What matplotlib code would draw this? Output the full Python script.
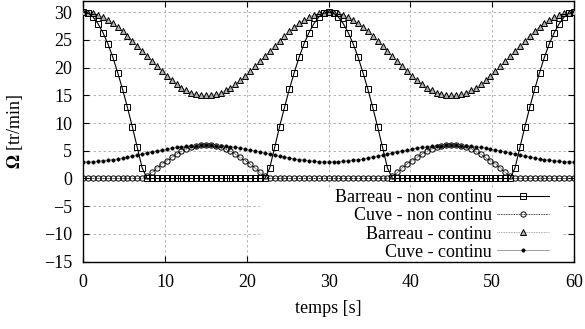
import numpy as np
import matplotlib
matplotlib.use("Agg")
import matplotlib.pyplot as plt
from matplotlib.patches import Rectangle

plt.rcParams['font.family'] = ['Liberation Serif', 'DejaVu Serif']
plt.rcParams['mathtext.fontset'] = 'stix'

# temps [s], one sample every 0.6 s
temps = np.linspace(0, 60, 101)

barreau_non_continu = [
    30.0, 29.8, 29.1, 27.9, 26.3, 24.3, 21.9, 19.1, 16.1, 12.8,
    9.3, 5.6, 1.9, 0, 0, 0, 0, 0, 0, 0,
    0, 0, 0, 0, 0, 0, 0, 0, 0, 0,
    0, 0, 0, 0, 0, 0, 0, 0, 1.9, 5.6,
    9.3, 12.8, 16.1, 19.1, 21.9, 24.3, 26.3, 27.9, 29.1, 29.8,
    30.0, 29.8, 29.1, 27.9, 26.3, 24.3, 21.9, 19.1, 16.1, 12.8,
    9.3, 5.6, 1.9, 0, 0, 0, 0, 0, 0, 0,
    0, 0, 0, 0, 0, 0, 0, 0, 0, 0,
    0, 0, 0, 0, 0, 0, 0, 0, 1.9, 5.6,
    9.3, 12.8, 16.1, 19.1, 21.9, 24.3, 26.3, 27.9, 29.1, 29.8,
    30.0]

cuve_non_continu = [
    0, 0, 0, 0, 0, 0, 0, 0, 0, 0,
    0, 0, 0, 0.4, 1.1, 1.9, 2.6, 3.2, 3.8, 4.4,
    4.9, 5.3, 5.6, 5.8, 6.0, 6.0, 6.0, 5.8, 5.6, 5.3,
    4.9, 4.4, 3.8, 3.2, 2.6, 1.9, 1.1, 0.4, 0, 0,
    0, 0, 0, 0, 0, 0, 0, 0, 0, 0,
    0, 0, 0, 0, 0, 0, 0, 0, 0, 0,
    0, 0, 0, 0.4, 1.1, 1.9, 2.6, 3.2, 3.8, 4.4,
    4.9, 5.3, 5.6, 5.8, 6.0, 6.0, 6.0, 5.8, 5.6, 5.3,
    4.9, 4.4, 3.8, 3.2, 2.6, 1.9, 1.1, 0.4, 0, 0,
    0, 0, 0, 0, 0, 0, 0, 0, 0, 0,
    0]

barreau_continu = [
    30.0, 29.9, 29.8, 29.5, 29.1, 28.6, 28.0, 27.3, 26.5, 25.7,
    24.8, 23.9, 23.0, 22.0, 21.1, 20.2, 19.3, 18.5, 17.7, 17.0,
    16.4, 15.9, 15.5, 15.2, 15.1, 15.0, 15.1, 15.2, 15.5, 15.9,
    16.4, 17.0, 17.7, 18.5, 19.3, 20.2, 21.1, 22.0, 23.0, 23.9,
    24.8, 25.7, 26.5, 27.3, 28.0, 28.6, 29.1, 29.5, 29.8, 29.9,
    30.0, 29.9, 29.8, 29.5, 29.1, 28.6, 28.0, 27.3, 26.5, 25.7,
    24.8, 23.9, 23.0, 22.0, 21.1, 20.2, 19.3, 18.5, 17.7, 17.0,
    16.4, 15.9, 15.5, 15.2, 15.1, 15.0, 15.1, 15.2, 15.5, 15.9,
    16.4, 17.0, 17.7, 18.5, 19.3, 20.2, 21.1, 22.0, 23.0, 23.9,
    24.8, 25.7, 26.5, 27.3, 28.0, 28.6, 29.1, 29.5, 29.8, 29.9,
    30.0]

cuve_continu = [
    3.0, 3.0, 3.0, 3.1, 3.2, 3.3, 3.4, 3.5, 3.7, 3.9,
    4.0, 4.2, 4.4, 4.6, 4.8, 5.0, 5.1, 5.3, 5.5, 5.6,
    5.7, 5.8, 5.9, 5.9, 6.0, 6.0, 6.0, 5.9, 5.9, 5.8,
    5.7, 5.6, 5.5, 5.3, 5.1, 5.0, 4.8, 4.6, 4.4, 4.2,
    4.0, 3.9, 3.7, 3.5, 3.4, 3.3, 3.2, 3.1, 3.0, 3.0,
    3.0, 3.0, 3.0, 3.1, 3.2, 3.3, 3.4, 3.5, 3.7, 3.9,
    4.0, 4.2, 4.4, 4.6, 4.8, 5.0, 5.1, 5.3, 5.5, 5.6,
    5.7, 5.8, 5.9, 5.9, 6.0, 6.0, 6.0, 5.9, 5.9, 5.8,
    5.7, 5.6, 5.5, 5.3, 5.1, 5.0, 4.8, 4.6, 4.4, 4.2,
    4.0, 3.9, 3.7, 3.5, 3.4, 3.3, 3.2, 3.1, 3.0, 3.0,
    3.0]

labels = ["Barreau - non continu", "Cuve - non continu",
          "Barreau - continu", "Cuve - continu"]
x_ticks = [0, 10, 20, 30, 40, 50, 60]
y_ticks = [-15, -10, -5, 0, 5, 10, 15, 20, 25, 30]

fig = plt.figure(figsize=(5.85, 3.29), dpi=100)
ax = fig.add_axes([0.1424, 0.2046, 0.8386, 0.7924])

ms = 3.8
ax.plot(temps, barreau_non_continu, color='black', lw=0.8, marker='s',
        ms=ms, mfc='none', mec='black', mew=0.7, label=labels[0], zorder=4)
ax.plot(temps, cuve_non_continu, color='black', lw=0.6, ls=(0, (1, 1)),
        marker='o', ms=ms, mfc='none', mec='black', mew=0.7,
        label=labels[1], zorder=3)
ax.plot(temps, barreau_continu, color='#909090', lw=0.6, ls=(0, (1, 1)),
        marker='^', ms=ms, mfc='#b0b0b0', mec='black', mew=0.7,
        label=labels[2], zorder=3)
ax.plot(temps, cuve_continu, color='#909090', lw=0.6, marker='o',
        ms=2.5, mfc='black', mec='black', mew=0.3, label=labels[3], zorder=3)

ax.set_xlim(0, 60)
ax.set_ylim(-15, 32)
ax.set_xticks(x_ticks)
ax.set_yticks(y_ticks)
ax.tick_params(direction='in', length=4, width=0.8, top=True, right=True,
               labelsize=13)
ax.tick_params(axis='x', pad=9)
ax.tick_params(axis='y', pad=8)
ax.grid(True, color='#a8a8a8', ls=(0, (3, 3)), lw=0.6)
for s in ax.spines.values():
    s.set_linewidth(1.0)

ax.set_xlabel("temps [s]", fontsize=13)
ax.set_ylabel(r"$\mathbf{\Omega}$ [tr/min]", fontsize=13)
ax.xaxis.set_label_coords(0.5, -0.18)
ax.yaxis.set_label_coords(-0.139, 0.5)
ax.xaxis.label.set_va('center')
ax.yaxis.label.set_va('center')

# opaque key area like gnuplot (hides the grid behind the legend)
ax.add_patch(Rectangle((0.36, 0.0), 0.618, 0.283, transform=ax.transAxes,
                       facecolor='white', edgecolor='none', zorder=1.8))

leg = ax.legend(loc='lower right', bbox_to_anchor=(0.975, -0.045),
                markerfirst=False, numpoints=1, handlelength=2.9,
                fontsize=13, frameon=False, borderpad=0.2,
                labelspacing=0.07, handletextpad=0.25)
leg.set_zorder(2)
for t in leg.get_texts():
    t.set_ha('right')
leg._legend_box.align = 'right'

fig.savefig("out.png", dpi=100)
